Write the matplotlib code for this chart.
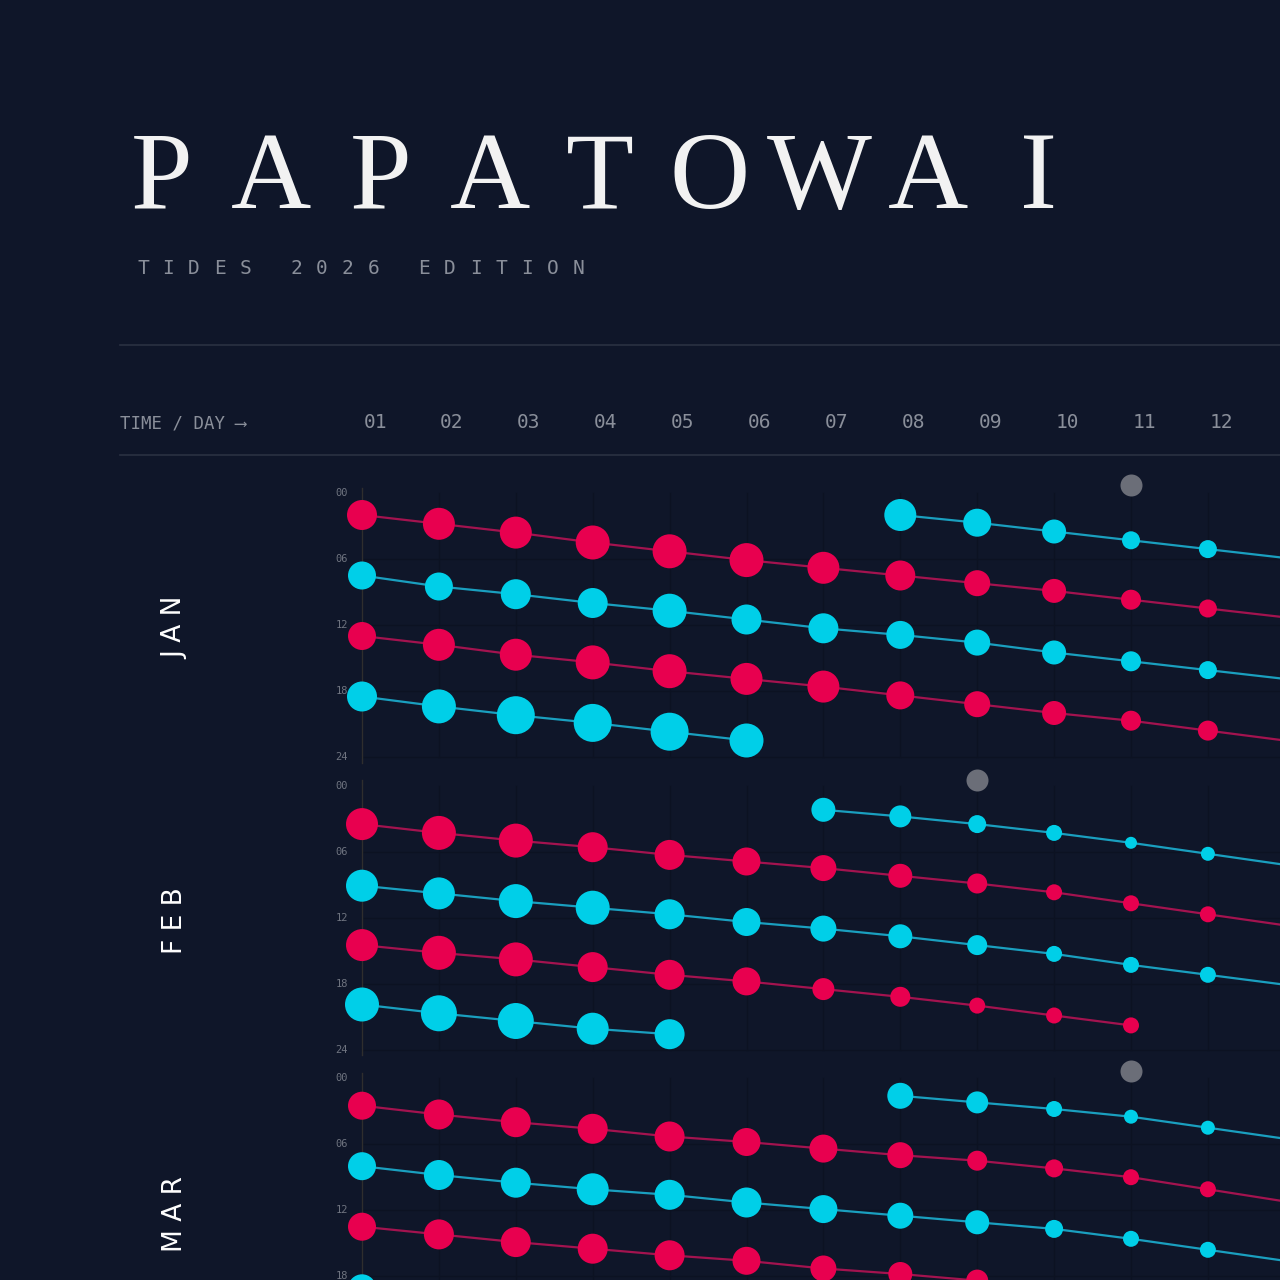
import matplotlib.pyplot as plt

BG = "#0f1629"
RED = "#e8004f"
CYAN = "#00cfe8"
RED_LINE = "#a3134f"
CYAN_LINE = "#1a9fbf"

DAYS = list(range(1, 13))
DAY_LABELS = [f"{d:02d}" for d in DAYS]
MONTHS = ["JAN", "FEB", "MAR"]
MONTH_STEP = 26.6  # hours between month blocks
HOUR_TICKS = [0, 6, 12, 18, 24]

# tracks per month: (kind, start_day, hours, radii in px)
jan_tracks = [
    ("high", 1, [2.0, 2.8, 3.6, 4.5, 5.3, 6.1, 6.8, 7.5, 8.2, 8.9, 9.7, 10.5],
     [15, 16, 16, 17, 17, 17, 16, 15, 13, 12, 10, 9]),
    ("low", 8, [2.0, 2.7, 3.5, 4.3, 5.1], [16, 14, 12, 9, 9]),
    ("low", 1, [7.5, 8.5, 9.2, 10.0, 10.7, 11.5, 12.3, 12.9, 13.6, 14.5, 15.3, 16.1],
     [14, 14, 15, 15, 17, 15, 15, 14, 13, 12, 10, 9]),
    ("high", 1, [13.0, 13.8, 14.7, 15.4, 16.2, 16.9, 17.6, 18.4, 19.2, 20.0, 20.7, 21.6],
     [14, 16, 16, 17, 17, 16, 16, 14, 13, 12, 10, 10]),
    ("low", 1, [18.5, 19.4, 20.2, 20.9, 21.7, 22.5], [15, 17, 19, 19, 19, 17]),
]
feb_tracks = [
    ("low", 7, [2.2, 2.8, 3.5, 4.3, 5.2, 6.2], [12, 11, 9, 8, 6, 7]),
    ("high", 1, [3.5, 4.3, 5.0, 5.6, 6.3, 6.9, 7.5, 8.2, 8.9, 9.7, 10.7, 11.7],
     [16, 17, 17, 15, 15, 14, 13, 12, 10, 8, 8, 8]),
    ("low", 1, [9.1, 9.8, 10.5, 11.1, 11.7, 12.4, 13.0, 13.7, 14.5, 15.3, 16.3, 17.2],
     [16, 16, 17, 17, 15, 14, 13, 12, 10, 8, 8, 8]),
    ("high", 1, [14.5, 15.2, 15.8, 16.5, 17.2, 17.8, 18.5, 19.2, 20.0, 20.9, 21.8],
     [16, 17, 17, 15, 15, 14, 11, 10, 8, 8, 8]),
    ("low", 1, [19.9, 20.7, 21.4, 22.1, 22.6], [17, 18, 18, 16, 15]),
]
mar_tracks = [
    ("low", 8, [1.6, 2.2, 2.8, 3.5, 4.5], [13, 11, 8, 7, 7]),
    ("high", 1, [2.5, 3.3, 4.0, 4.6, 5.3, 5.8, 6.4, 7.0, 7.5, 8.2, 9.0, 10.1],
     [14, 15, 15, 15, 15, 14, 14, 13, 10, 9, 8, 8]),
    ("low", 1, [8.0, 8.8, 9.5, 10.1, 10.6, 11.3, 11.9, 12.5, 13.1, 13.7, 14.6, 15.6],
     [14, 15, 15, 16, 15, 15, 14, 13, 12, 9, 8, 8]),
    ("high", 1, [13.5, 14.2, 14.9, 15.5, 16.1, 16.6, 17.3, 17.8, 18.4],
     [14, 15, 15, 15, 15, 14, 13, 12, 11]),
    ("low", 1, [19.1, 19.9, 20.6], [14, 15, 15]),
]
TRACKS = [jan_tracks, feb_tracks, mar_tracks]
# grey moon markers: (day, hour)
MOON = [(11, -0.7), (9, -0.5), (11, -0.7)]

fig = plt.figure(figsize=(12.8, 12.8), dpi=100, facecolor=BG)

# axes spans px x 120..1280, y 460..1280
ax = fig.add_axes([120 / 1280, 0, 1160 / 1280, 820 / 1280])
ax.set_facecolor(BG)
px_per_day = 76.9
px_per_hour = 11.0
ax.set_xlim(1 - 242 / px_per_day, 1 + 918 / px_per_day)
ax.set_ylim((1280 - 493) / px_per_hour, (460 - 493) / px_per_hour)
ax.axis("off")

for m, (name, tracks) in enumerate(zip(MONTHS, TRACKS)):
    off = m * MONTH_STEP
    # faint grid
    for d in DAYS:
        ax.plot([d, d], [off + 0, off + 24], color="#0c1222", lw=1.0, zorder=0)
    ax.plot([1, 1], [off - 0.5, off + 24.5], color="#2f2e2e", lw=1, zorder=1)
    for h in HOUR_TICKS[1:]:
        ax.plot([1, 13.5], [off + h, off + h], color="#0c1222", lw=1.0, zorder=0)
    for h in HOUR_TICKS:
        ax.text(0.82, off + h, f"{h:02d}", color="#6f7480", fontsize=7.5,
                family="DejaVu Sans Mono", ha="right", va="center")
    ax.text(1 + (175 - 362) / px_per_day, off + 12.3, " ".join(name),
            color="white", fontsize=19, family="DejaVu Sans", rotation=90,
            ha="center", va="center")
    for kind, start, hours, radii in tracks:
        xs = list(range(start, start + len(hours)))
        ys = [off + h for h in hours]
        col = RED if kind == "high" else CYAN
        lcol = RED_LINE if kind == "high" else CYAN_LINE
        # continue line past the last point to the right edge
        slope = (ys[-1] - ys[-2]) / (xs[-1] - xs[-2])
        lx = xs + [14]
        ly = ys + [ys[-1] + slope * (14 - xs[-1])]
        if xs[-1] < 12 and start == 1:
            lx, ly = xs, ys
        ax.plot(lx, ly, color=lcol, lw=1.6, zorder=2)
        sizes = [(2 * r * 0.72) ** 2 for r in radii]
        ax.scatter(xs, ys, s=sizes, color=col, linewidths=0, zorder=3)
    md, mh = MOON[m]
    ax.scatter([md], [off + mh], s=(2 * 11 * 0.72) ** 2, color="#6b6e78",
               linewidths=0, zorder=3)

# header
title = "PAPATOWAI"
for i, ch in enumerate(title):
    fig.text((162 + i * 109.5) / 1280, 1 - 208 / 1280, ch, color="#f2f2f2",
             fontsize=80, family="Liberation Serif", ha="center", va="baseline",
             fontstretch="condensed")
subtitle = "TIDES  2026  EDITION"
x = 137
for ch in subtitle:
    if ch != " ":
        fig.text(x / 1280, 1 - 268 / 1280, ch, color="#8a8f9a", fontsize=14,
                 family="DejaVu Sans Mono", va="center")
    x += 25.6 if ch != " " else 12.8
for y in (345, 455):
    fig.add_artist(plt.Line2D([120 / 1280, 1], [1 - y / 1280] * 2,
                              color="#2a3142", lw=1.2))
fig.text(120 / 1280, 1 - 423 / 1280, "TIME / DAY ⟶", color="#8a8f9a",
         fontsize=12.5, family="DejaVu Sans Mono", va="center")
for d, lab in zip(DAYS, DAY_LABELS):
    ax.text(d + 0.17, (423 - 493) / px_per_hour, lab, color="#8a8f9a",
            fontsize=14, family="DejaVu Sans Mono", ha="center", va="center",
            clip_on=False)

fig.savefig("out.png", dpi=100, facecolor=BG)
